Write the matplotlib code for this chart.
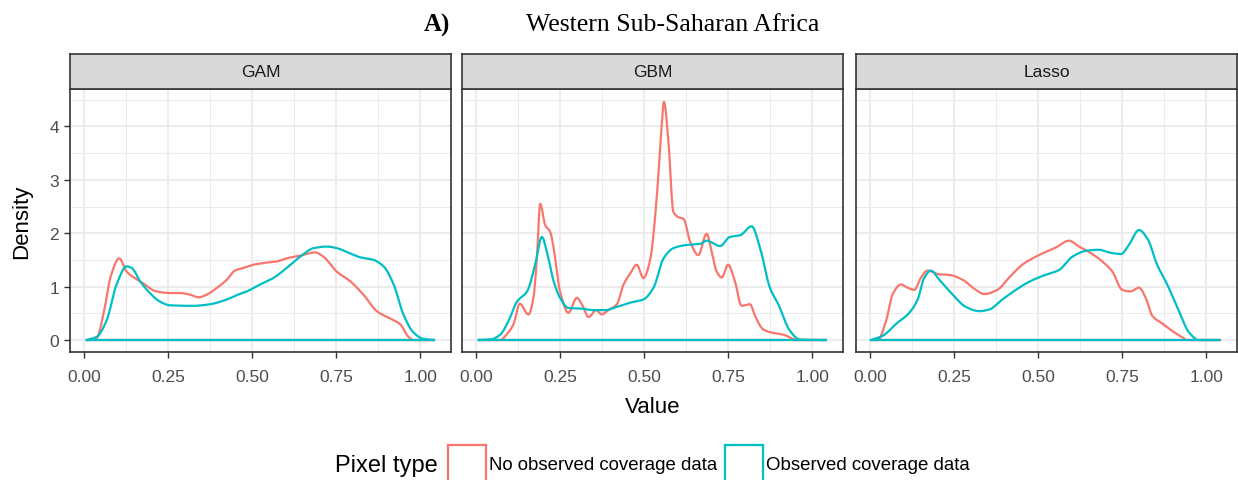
import numpy as np
import matplotlib
matplotlib.use("Agg")
import matplotlib.pyplot as plt
from matplotlib.lines import Line2D

models = ["GAM", "GBM", "Lasso"]
series_names = ["No observed coverage data", "Observed coverage data"]
colors = ["#F8766D", "#00BFC4"]
x_ticks = [0.00, 0.25, 0.50, 0.75, 1.00]
x_ticklabels = ["0.00", "0.25", "0.50", "0.75", "1.00"]
y_ticks = [0, 1, 2, 3, 4]

# GAM
gam_no_x = [0.01, 0.038, 0.06, 0.08, 0.105, 0.127, 0.167, 0.216, 0.256, 0.286, 0.315, 0.34, 0.365, 0.395,
            0.425, 0.449, 0.474, 0.504, 0.544, 0.573, 0.603, 0.643, 0.688, 0.712, 0.752, 0.792,
            0.831, 0.871, 0.921, 0.94, 0.965, 0.98, 1.04]
gam_no_y = [0.0, 0.04, 0.55, 1.2, 1.53, 1.28, 1.10, 0.91, 0.88, 0.88, 0.85, 0.80, 0.85, 0.975,
            1.13, 1.30, 1.35, 1.41, 1.45, 1.47, 1.53, 1.58, 1.64, 1.56, 1.28, 1.10,
            0.85, 0.54, 0.37, 0.30, 0.06, 0.0, 0.0]
gam_obs_x = [0.008, 0.038, 0.067, 0.097, 0.127, 0.142, 0.167, 0.196, 0.226, 0.256, 0.325, 0.375, 0.425,
             0.454, 0.484, 0.524, 0.563, 0.603, 0.643, 0.683, 0.722, 0.752, 0.792, 0.821, 0.861,
             0.891, 0.921, 0.95, 0.98, 1.01, 1.04]
gam_obs_y = [0.0, 0.06, 0.36, 1.04, 1.38, 1.35, 1.10, 0.88, 0.72, 0.65, 0.64, 0.67, 0.76,
             0.84, 0.91, 1.04, 1.16, 1.35, 1.56, 1.72, 1.75, 1.72, 1.62, 1.55, 1.50,
             1.38, 1.04, 0.48, 0.14, 0.02, 0.0]

# GBM
gbm_no_x = [0.01, 0.072, 0.092, 0.112, 0.13, 0.156, 0.171, 0.181, 0.191, 0.206, 0.221, 0.231, 0.25, 0.275,
            0.30, 0.315, 0.335, 0.357, 0.374, 0.394, 0.419, 0.439, 0.459, 0.478, 0.498, 0.518,
            0.538, 0.55, 0.559, 0.572, 0.587, 0.602, 0.617, 0.637, 0.661, 0.686, 0.701, 0.716,
            0.731, 0.75, 0.77, 0.79, 0.815, 0.83, 0.854, 0.879, 0.914, 0.943, 0.95, 1.04]
gbm_no_y = [0.0, 0.0, 0.11, 0.30, 0.68, 0.48, 0.79, 1.53, 2.55, 2.15, 2.02, 1.72, 0.91, 0.51,
            0.79, 0.67, 0.43, 0.56, 0.48, 0.56, 0.67, 1.04, 1.25, 1.41, 1.16, 1.50,
            2.70, 3.81, 4.46, 3.75, 2.40, 2.30, 2.27, 1.84, 1.59, 1.99, 1.65, 1.28,
            1.17, 1.41, 1.10, 0.64, 0.67, 0.45, 0.20, 0.14, 0.10, 0.02, 0.0, 0.0]
gbm_obs_x = [0.008, 0.043, 0.072, 0.097, 0.122, 0.152, 0.176, 0.196, 0.211, 0.231, 0.25, 0.275, 0.31,
             0.35, 0.384, 0.419, 0.459, 0.498, 0.528, 0.558, 0.587, 0.627, 0.666, 0.686, 0.726,
             0.755, 0.785, 0.82, 0.845, 0.874, 0.899, 0.934, 0.963, 1.04]
gbm_obs_y = [0.0, 0.01, 0.10, 0.36, 0.72, 0.91, 1.41, 1.93, 1.65, 1.10, 0.79, 0.60, 0.59,
             0.56, 0.56, 0.62, 0.70, 0.76, 0.98, 1.53, 1.72, 1.78, 1.80, 1.86, 1.76,
             1.93, 1.96, 2.13, 1.72, 0.98, 0.67, 0.17, 0.01, 0.0]

# Lasso
lasso_no_x = [0.01, 0.023, 0.048, 0.067, 0.092, 0.112, 0.132, 0.151, 0.171, 0.206, 0.236, 0.275, 0.315,
              0.34, 0.379, 0.414, 0.453, 0.493, 0.523, 0.552, 0.592, 0.622, 0.651, 0.691, 0.721,
              0.75, 0.775, 0.80, 0.82, 0.84, 0.869, 0.899, 0.929, 0.944, 1.04]
lasso_no_y = [0.0, 0.0, 0.36, 0.85, 1.04, 0.98, 0.94, 1.16, 1.30, 1.23, 1.22, 1.13, 0.94,
              0.86, 0.94, 1.17, 1.41, 1.56, 1.65, 1.73, 1.86, 1.75, 1.65, 1.47, 1.28,
              0.94, 0.91, 0.98, 0.79, 0.45, 0.31, 0.17, 0.05, 0.0, 0.0]
lasso_obs_x = [0.003, 0.038, 0.077, 0.117, 0.142, 0.161, 0.181, 0.206, 0.246, 0.285, 0.325, 0.354, 0.394,
               0.434, 0.473, 0.513, 0.562, 0.602, 0.642, 0.681, 0.711, 0.746, 0.77, 0.80, 0.825,
               0.854, 0.884, 0.919, 0.949, 0.978, 1.038]
lasso_obs_y = [0.0, 0.08, 0.30, 0.51, 0.76, 1.16, 1.30, 1.13, 0.85, 0.62, 0.54, 0.57, 0.76,
               0.94, 1.09, 1.20, 1.31, 1.56, 1.67, 1.69, 1.64, 1.61, 1.78, 2.06, 1.90,
               1.41, 1.04, 0.54, 0.14, 0.0, 0.0]

data = {
    "GAM": [(gam_no_x, gam_no_y), (gam_obs_x, gam_obs_y)],
    "GBM": [(gbm_no_x, gbm_no_y), (gbm_obs_x, gbm_obs_y)],
    "Lasso": [(lasso_no_x, lasso_no_y), (lasso_obs_x, lasso_obs_y)],
}


def smooth_path(xs, ys, n=12):
    """Monotone cubic (Fritsch-Carlson) rendering through the read points."""
    x = np.asarray(xs, float)
    y = np.asarray(ys, float)
    h = np.diff(x)
    d = np.diff(y) / h
    m = np.zeros_like(y)
    m[0], m[-1] = d[0], d[-1]
    for k in range(1, len(x) - 1):
        if d[k - 1] * d[k] <= 0:
            m[k] = 0.0
        else:
            w1 = 2 * h[k] + h[k - 1]
            w2 = h[k] + 2 * h[k - 1]
            m[k] = (w1 + w2) / (w1 / d[k - 1] + w2 / d[k])
    out_x, out_y = [], []
    for k in range(len(x) - 1):
        t = np.linspace(0, 1, n, endpoint=False)
        h00 = 2 * t**3 - 3 * t**2 + 1
        h10 = t**3 - 2 * t**2 + t
        h01 = -2 * t**3 + 3 * t**2
        h11 = t**3 - t**2
        out_x.append(x[k] + t * h[k])
        out_y.append(h00 * y[k] + h10 * h[k] * m[k] + h01 * y[k + 1] + h11 * h[k] * m[k + 1])
    out_x.append([x[-1]])
    out_y.append([y[-1]])
    return np.concatenate(out_x), np.concatenate(out_y)


plt.rcParams['font.family'] = ['Liberation Sans', 'DejaVu Sans']

W, H = 1238, 481
fig = plt.figure(figsize=(W / 100, H / 100), dpi=100)


def fx(px):
    return px / W


def fy(py):
    return 1 - py / H


panel_lefts = [70, 462, 856]
panel_w = 381
top_px, bot_px = 90, 353
strip_top = 55

xlim = (-0.0415, 1.0915)
ylim = (-0.224, 4.70)

for i, (m, left) in enumerate(zip(models, panel_lefts)):
    ax = fig.add_axes([fx(left), fy(bot_px), fx(panel_w), (bot_px - top_px) / H])
    ax.set_xlim(*xlim)
    ax.set_ylim(*ylim)
    for xv in x_ticks:
        ax.axvline(xv, color="#EBEBEB", lw=1.3, zorder=0)
    for xv in [0.125, 0.375, 0.625, 0.875]:
        ax.axvline(xv, color="#EBEBEB", lw=0.7, zorder=0)
    for yv in y_ticks:
        ax.axhline(yv, color="#EBEBEB", lw=1.3, zorder=0)
    for yv in [0.5, 1.5, 2.5, 3.5, 4.5]:
        ax.axhline(yv, color="#EBEBEB", lw=0.7, zorder=0)
    for (xs, ys), c in zip(data[m], colors):
        sx, sy = smooth_path(xs, ys)
        ax.plot(sx, sy, color=c, lw=1.6, solid_joinstyle="round", zorder=3)
        ax.plot([xs[0], xs[-1]], [0, 0], color=c, lw=1.6, zorder=3)
    ax.set_xticks(x_ticks)
    ax.set_xticklabels(x_ticklabels)
    ax.set_yticks(y_ticks)
    ax.tick_params(axis="both", colors="#333333", labelcolor="#4D4D4D", labelsize=12.5,
                   length=4, width=1.0)
    ax.tick_params(axis="x", pad=8)
    ax.tick_params(axis="y", pad=4)
    if i > 0:
        ax.set_yticklabels([])
        ax.tick_params(axis="y", length=0)
    for sp in ax.spines.values():
        sp.set_color("#333333")
        sp.set_linewidth(1.2)
    if i == 0:
        ax.set_ylabel("Density", fontsize=16, color="black", labelpad=12)
    if i == 1:
        ax.set_xlabel("Value", fontsize=16, color="black", labelpad=9)
    sax = fig.add_axes([fx(left), fy(top_px), fx(panel_w), (top_px - strip_top) / H])
    sax.set_xticks([])
    sax.set_yticks([])
    sax.set_facecolor("#D9D9D9")
    for sp in sax.spines.values():
        sp.set_color("#333333")
        sp.set_linewidth(1.2)
    sax.text(0.5, 0.5, m, ha="center", va="center", fontsize=12.5, color="#1A1A1A",
             transform=sax.transAxes)

# Title
fig.text(fx(437), fy(25), "A)", fontsize=18, fontweight="bold", family="Liberation Serif",
         ha="center", va="center")
fig.text(fx(673), fy(25), "Western Sub-Saharan Africa", fontsize=18.5, family="Liberation Serif",
         ha="center", va="center")

# Legend
fig.text(fx(335), fy(466), "Pixel type", fontsize=17, ha="left", va="center")
for kx, c, label, tx in [(448, colors[0], series_names[0], 489), (725, colors[1], series_names[1], 766)]:
    fig.add_artist(Line2D([fx(kx), fx(kx)], [fy(481), fy(446)], color=c, lw=1.6))
    fig.add_artist(Line2D([fx(kx + 38), fx(kx + 38)], [fy(481), fy(446)], color=c, lw=1.6))
    fig.add_artist(Line2D([fx(kx), fx(kx + 38)], [fy(446), fy(446)], color=c, lw=1.6))
    fig.text(fx(tx), fy(466), label, fontsize=13.4, ha="left", va="center")

fig.savefig("out.png", dpi=100)
